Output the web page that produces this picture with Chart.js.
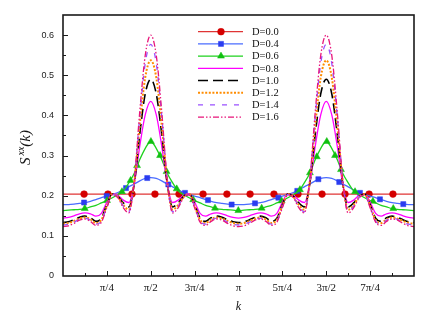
<!DOCTYPE html>
<html>
<head>
<meta charset="utf-8">
<script src="https://cdn.jsdelivr.net/npm/chart.js@4.4.1/dist/chart.umd.min.js"></script>
<style>
  html, body { margin: 0; padding: 0; background: #fff; }
  #wrap { width: 436px; height: 322px; }
</style>
</head>
<body>
<div id="wrap"><canvas id="chart" width="436" height="322"></canvas></div>
<script>
/* k in units of pi, sampled every pi/32 from 0 to 2pi */
var K_PI = [];
for (var i = 0; i <= 64; i++) K_PI.push(i / 32);

/* Axis ticks */
var X_TICKS = [0.25, 0.5, 0.75, 1, 1.25, 1.5, 1.75];
var X_TICK_LABELS = ['\u03c0/4', '\u03c0/2', '3\u03c0/4', '\u03c0', '5\u03c0/4', '3\u03c0/2', '7\u03c0/4'];
var Y_TICKS = [0, 0.1, 0.2, 0.3, 0.4, 0.5, 0.6];
var Y_TICK_LABELS = ['0', '0.1', '0.2', '0.3', '0.4', '0.5', '0.6'];

/* D = 0.0 is flat */
var K_D00 = [0, 2];
var S_D00 = [0.204, 0.204];

var S_D04 = [
  0.178,0.178,0.179,0.181,0.183,0.186,0.190,0.195,0.199,0.203,0.208,0.214,0.222,0.229,0.237,0.243,0.245,
  0.243,0.237,0.229,0.222,0.214,0.208,0.203,0.199,0.195,0.190,0.186,0.183,0.181,0.179,0.178,0.178,
  0.178,0.179,0.181,0.183,0.186,0.190,0.195,0.199,0.203,0.208,0.214,0.222,0.229,0.237,0.243,0.245,
  0.243,0.237,0.229,0.222,0.214,0.208,0.203,0.199,0.195,0.190,0.186,0.183,0.181,0.179,0.178,0.178
];
var S_D06 = [
  0.163,0.164,0.165,0.166,0.168,0.172,0.176,0.182,0.188,0.195,0.203,0.212,0.232,0.256,0.290,0.318,0.335,
  0.318,0.290,0.256,0.232,0.212,0.203,0.195,0.188,0.182,0.176,0.172,0.168,0.166,0.165,0.164,0.163,
  0.164,0.165,0.166,0.168,0.172,0.176,0.182,0.188,0.195,0.203,0.212,0.232,0.256,0.290,0.318,0.335,
  0.318,0.290,0.256,0.232,0.212,0.203,0.195,0.188,0.182,0.176,0.172,0.168,0.166,0.165,0.164,0.163
];
var S_D08 = [
  0.144,0.146,0.150,0.155,0.157,0.155,0.149,0.156,0.184,0.205,0.201,0.189,0.183,0.229,0.324,0.402,0.435,
  0.402,0.324,0.229,0.183,0.189,0.201,0.205,0.184,0.156,0.149,0.155,0.157,0.155,0.150,0.146,0.144,
  0.146,0.150,0.155,0.157,0.155,0.149,0.156,0.184,0.205,0.201,0.189,0.183,0.229,0.324,0.402,0.435,
  0.402,0.324,0.229,0.183,0.189,0.201,0.205,0.184,0.156,0.149,0.155,0.157,0.155,0.150,0.146,0.144
];
var S_D10 = [
  0.133,0.135,0.140,0.146,0.149,0.145,0.136,0.144,0.178,0.205,0.199,0.182,0.172,0.231,0.354,0.454,0.490,
  0.454,0.354,0.231,0.172,0.182,0.199,0.205,0.178,0.144,0.136,0.145,0.149,0.146,0.140,0.135,0.133,
  0.135,0.140,0.146,0.149,0.145,0.136,0.144,0.178,0.205,0.199,0.182,0.172,0.231,0.354,0.454,0.490,
  0.454,0.354,0.231,0.172,0.182,0.199,0.205,0.178,0.144,0.136,0.145,0.149,0.146,0.140,0.135,0.133
];
var S_D12 = [
  0.130,0.132,0.137,0.143,0.146,0.141,0.132,0.140,0.175,0.204,0.197,0.177,0.165,0.235,0.377,0.495,0.537,
  0.495,0.377,0.235,0.165,0.177,0.197,0.204,0.175,0.140,0.132,0.141,0.146,0.143,0.137,0.132,0.130,
  0.132,0.137,0.143,0.146,0.141,0.132,0.140,0.175,0.204,0.197,0.177,0.165,0.235,0.377,0.495,0.537,
  0.495,0.377,0.235,0.165,0.177,0.197,0.204,0.175,0.140,0.132,0.141,0.146,0.143,0.137,0.132,0.130
];
var S_D14 = [
  0.127,0.129,0.134,0.141,0.144,0.139,0.129,0.137,0.172,0.203,0.196,0.174,0.160,0.238,0.398,0.530,0.577,
  0.530,0.398,0.238,0.160,0.174,0.196,0.203,0.172,0.137,0.129,0.139,0.144,0.141,0.134,0.129,0.127,
  0.129,0.134,0.141,0.144,0.139,0.129,0.137,0.172,0.203,0.196,0.174,0.160,0.238,0.398,0.530,0.577,
  0.530,0.398,0.238,0.160,0.174,0.196,0.203,0.172,0.137,0.129,0.139,0.144,0.141,0.134,0.129,0.127
];
var S_D16 = [
  0.123,0.125,0.131,0.139,0.142,0.136,0.126,0.134,0.170,0.202,0.195,0.170,0.157,0.240,0.410,0.550,0.600,
  0.550,0.410,0.240,0.157,0.170,0.195,0.202,0.170,0.134,0.126,0.136,0.142,0.139,0.131,0.125,0.123,
  0.125,0.131,0.139,0.142,0.136,0.126,0.134,0.170,0.202,0.195,0.170,0.157,0.240,0.410,0.550,0.600,
  0.550,0.410,0.240,0.157,0.170,0.195,0.202,0.170,0.134,0.126,0.136,0.142,0.139,0.131,0.125,0.123
];

/* Symbol positions (k/pi, value) for the marked curves */
var MK_D00_K = [0.120,0.256,0.393,0.524,0.661,0.798,0.934,1.066,1.202,1.339,1.476,1.607,1.744,1.880];
var MK_D00_S = [0.204,0.204,0.204,0.204,0.204,0.204,0.204,0.204,0.204,0.204,0.204,0.204,0.204,0.204];
var MK_D04_K = [0.120,0.249,0.359,0.480,0.600,0.695,0.826,0.961,1.094,1.227,1.335,1.455,1.574,1.692,1.806,1.939];
var MK_D04_S = [0.183,0.199,0.219,0.244,0.228,0.207,0.189,0.178,0.181,0.195,0.212,0.241,0.234,0.207,0.191,0.179];
var MK_D06_K = [0.124,0.251,0.336,0.385,0.422,0.501,0.553,0.590,0.648,0.742,0.866,0.999,
                1.132,1.246,1.350,1.407,1.446,1.503,1.550,1.584,1.664,1.766,1.882];
var MK_D06_S = [0.168,0.188,0.210,0.238,0.275,0.335,0.300,0.260,0.217,0.190,0.169,0.163,
                0.169,0.187,0.215,0.257,0.297,0.335,0.300,0.265,0.210,0.186,0.168];

function pts(ks, ss) {
  return ks.map(function(k, j) { return { x: k, y: ss[j] }; });
}

/* Legend entries: line style and symbol */
var LEGEND = [
  { text: 'D=0.0', color: '#e03434', width: 1.3, dash: [], marker: 'circle', mcolor: '#d40000', r: 3.4 },
  { text: 'D=0.4', color: '#4a6cff', width: 1.3, dash: [], marker: 'rect', mcolor: '#2a3cf0', r: 3.6 },
  { text: 'D=0.6', color: '#1ed21e', width: 1.3, dash: [], marker: 'triangle', mcolor: '#10c010', r: 4 },
  { text: 'D=0.8', color: '#ff00ff', width: 1.3, dash: [] },
  { text: 'D=1.0', color: '#000000', width: 1.6, dash: [10, 5] },
  { text: 'D=1.2', color: '#ff8c00', width: 2, dash: [2, 1.6] },
  { text: 'D=1.4', color: '#9a50ff', width: 1.3, dash: [5, 7] },
  { text: 'D=1.6', color: '#e8147a', width: 1.3, dash: [6, 2, 1.5, 2, 1.5, 2] }
];

function lineSet(i, data, order) {
  var L = LEGEND[i];
  return {
    label: L.text, data: data, order: order,
    borderColor: L.color, borderWidth: L.width, borderDash: L.dash,
    pointRadius: 0, cubicInterpolationMode: 'monotone', fill: false
  };
}
function markSet(i, data, order) {
  var L = LEGEND[i];
  return {
    label: L.text + ' symbols', data: data, order: order, showLine: false,
    pointStyle: L.marker, pointRadius: L.r, pointBorderWidth: 0.5,
    pointBackgroundColor: L.mcolor, pointBorderColor: L.mcolor
  };
}
function curve(s) { return K_PI.map(function(k, j) { return { x: k, y: s[j] }; }); }

/* Frame, inward ticks, axis titles and the legend */
var decor = {
  id: 'decor',
  afterDraw: function(chart) {
    var ctx = chart.ctx, a = chart.chartArea, xs = chart.scales.x, ys = chart.scales.y;
    ctx.save();
    ctx.strokeStyle = '#1a1a1a';
    ctx.lineWidth = 1;
    ctx.beginPath();
    for (var v = 0.125; v < 2; v += 0.125) {
      var px = Math.round(xs.getPixelForValue(v)) + 0.5;
      var len = (Math.abs(v * 4 - Math.round(v * 4)) < 1e-6) ? 5 : 3;
      ctx.moveTo(px, a.bottom); ctx.lineTo(px, a.bottom - len);
    }
    for (var w = 0.05; w < 0.65; w += 0.05) {
      var py = Math.round(ys.getPixelForValue(w)) + 0.5;
      var l2 = (Math.abs(w * 10 - Math.round(w * 10)) < 1e-6) ? 5 : 3;
      ctx.moveTo(a.left, py); ctx.lineTo(a.left + l2, py);
    }
    ctx.stroke();
    ctx.lineWidth = 1.6;
    ctx.strokeRect(a.left, a.top, a.right - a.left, a.bottom - a.top);

    /* x title */
    ctx.fillStyle = '#111';
    ctx.font = 'italic 12px "Liberation Serif", serif';
    ctx.textAlign = 'center';
    ctx.textBaseline = 'alphabetic';
    ctx.fillText('k', (a.left + a.right) / 2, 310);

    /* y title S^xx(k) */
    ctx.save();
    ctx.translate(30, 147.5);
    ctx.rotate(-Math.PI / 2);
    ctx.textAlign = 'left';
    var big = 'italic 15px "Liberation Serif", serif', small = 'italic 10px "Liberation Serif", serif';
    ctx.font = big; var w1 = ctx.measureText('S').width, w3 = ctx.measureText('(k)').width;
    ctx.font = small; var w2 = ctx.measureText('xx').width;
    var x0 = -(w1 + 2 + w2 + w3) / 2;
    ctx.font = big; ctx.fillText('S', x0, 0);
    ctx.font = small; ctx.fillText('xx', x0 + w1 + 2, -6);
    ctx.font = big; ctx.fillText('(k)', x0 + w1 + 2 + w2, 0);
    ctx.restore();

    /* legend */
    ctx.font = '10.5px "Liberation Serif", serif';
    ctx.textBaseline = 'middle';
    for (var i = 0; i < LEGEND.length; i++) {
      var L = LEGEND[i], ry = 31.7 + 12.2 * i;
      ctx.strokeStyle = L.color;
      ctx.lineWidth = L.width;
      ctx.setLineDash(L.dash);
      ctx.beginPath(); ctx.moveTo(198, ry); ctx.lineTo(243, ry); ctx.stroke();
      ctx.setLineDash([]);
      if (L.marker) {
        ctx.fillStyle = L.mcolor; ctx.strokeStyle = L.mcolor; ctx.lineWidth = 0.5;
        Chart.helpers.drawPoint(ctx, { pointStyle: L.marker, radius: L.r, rotation: 0, borderWidth: 0.5 }, 221, ry);
      }
      ctx.fillStyle = '#111';
      ctx.textAlign = 'left';
      ctx.fillText(L.text, 252, ry + 0.5);
    }
    ctx.restore();
  }
};

new Chart(document.getElementById('chart'), {
  type: 'scatter',
  data: {
    datasets: [
      lineSet(7, curve(S_D16), 0),
      lineSet(6, curve(S_D14), 1),
      lineSet(5, curve(S_D12), 2),
      lineSet(4, curve(S_D10), 3),
      lineSet(3, curve(S_D08), 4),
      markSet(2, pts(MK_D06_K, MK_D06_S), 5),
      lineSet(2, curve(S_D06), 6),
      markSet(1, pts(MK_D04_K, MK_D04_S), 7),
      lineSet(1, curve(S_D04), 8),
      markSet(0, pts(MK_D00_K, MK_D00_S), 9),
      lineSet(0, pts(K_D00, S_D00), 10)
    ]
  },
  options: {
    responsive: false,
    animation: false,
    devicePixelRatio: 1,
    layout: { padding: { top: 15, right: 22, left: 0, bottom: 0 } },
    elements: { line: { tension: 0.4 } },
    datasets: { scatter: { showLine: true } },
    plugins: { legend: { display: false }, tooltip: { enabled: false } },
    scales: {
      x: {
        type: 'linear', min: 0, max: 2,
        grid: { display: false, drawTicks: false },
        border: { display: false },
        afterFit: function(s) { s.height = 46; },
        afterBuildTicks: function(s) { s.ticks = X_TICKS.map(function(v) { return { value: v }; }); },
        ticks: {
          padding: 6, color: '#111', maxRotation: 0, autoSkip: false,
          font: { family: '"Liberation Serif", serif', size: 11 },
          callback: function(v, idx) { return X_TICK_LABELS[idx]; }
        }
      },
      y: {
        type: 'linear', min: 0, max: 0.65,
        grid: { display: false, drawTicks: false },
        border: { display: false },
        afterFit: function(s) { s.width = 63; },
        afterBuildTicks: function(s) { s.ticks = Y_TICKS.map(function(v) { return { value: v }; }); },
        ticks: {
          padding: 9, color: '#222',
          font: { family: '"Liberation Sans", Arial, sans-serif', size: 9 },
          callback: function(v, idx) { return Y_TICK_LABELS[idx]; }
        }
      }
    }
  },
  plugins: [decor]
});
</script>
</body>
</html>
